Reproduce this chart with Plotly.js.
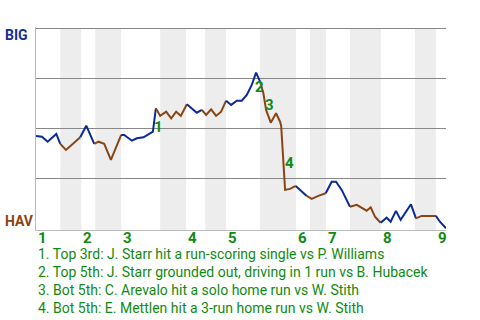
<!DOCTYPE html>
<html>
<head>
<meta charset="utf-8">
<script src="https://cdn.plot.ly/plotly-3.0.1.min.js"></script>
<style>html,body{margin:0;padding:0;background:#fff;}#chart{width:480px;height:320px;}</style>
</head>
<body>
<div id="chart"></div>
<script>
// Game progress (0..100) and BIG win probability (%)
const progress = [0,1.46,2.83,4.95,5.92, 7.31,9.16,10.79, 12.26,14.21, 15.25,16.64,18.27,20.78,
  21.52,23.39,24.61,26.22,27.85,28.51,29.24, 30.29,31.75,32.97,34.19,35.33,36.79, 39.23,40.45,
  41.50,42.71,43.93,45.15,46.37, 47.59,48.98,50.19,51.41,52.63,53.68,54.65,
  55.46,56.12,57.26,58.55,59.53,59.8,60.18,60.75,61.97,63.35, 64.81,66.03, 67.25,68.86,70.66,
  72.12,73.17,74.56,76.58, 78.22,80.65,81.63,82.68,84.06, 85.53,86.50,87.79,88.94,90.16,91.45,92.67,
  94.05,97.54, 98.51,100];
const winProb = [46.2,45.8,43.3,47.2,42.2, 39.2,42.5,45.5, 51.3,42.2, 43.3,42.2,34.2,46.7,
  46.7,43.8,45.0,45.5,47.2,48.3,60.0, 56.2,58.3,55.0,58.3,56.2,62.0, 57.8,59.2,
  56.7,59.5,56.2,58.3,63.8, 61.7,63.8,63.8,66.7,71.7,77.8,73.3,
  67.5,59.2,52.8,57.5,53.3,51.2,36.7,19.2,19.7,21.2, 18.3,16.2, 14.7,16.2,17.5,
  23.3,23.3,19.2,10.8, 11.7,8.8,10.5,5.8,2.8, 5.3,3.3,8.7,4.2,8.3,12.0,5.0,
  6.2,6.2, 3.3,0];
// half-inning of each play (even = top / BIG batting, odd = bottom / HAV batting)
const halfInning = [0,0,0,0,0, 1,1,1, 2,2, 3,3,3,3, 4,4,4,4,4,4,4, 5,5,5,5,5,5, 6,6,
  7,7,7,7,7, 8,8,8,8,8,8,8, 9,9,9,9,9,9,9,9,9,9, 10,10, 11,11,11, 12,12,12,12,
  13,13,13,13,13, 14,14,14,14,14,14,14, 15,15, 16,16];
const inningStarts = [0,11.04,20.78,36.62,46.37,63.43,70.73,84.13,97.53];
const bottomStarts = [5.92,14.45,30.29,41.26,54.65,66.84,76.58,92.41];
const inningLabels = ['1','2','3','4','5','6','7','8','9'];
const eventPlay = [20,39,41,47];
const eventLabels = ['1','2','3','4'];
const eventTexts = [
  '1. Top 3rd: J. Starr hit a run-scoring single vs P. Williams',
  '2. Top 5th: J. Starr grounded out, driving in 1 run vs B. Hubacek',
  '3. Bot 5th: C. Arevalo hit a solo home run vs W. Stith',
  '4. Bot 5th: E. Mettlen hit a 3-run home run vs W. Stith'
];
const teamTop = 'BIG', teamBottom = 'HAV';

const BLUE = '#0b2a99', BROWN = '#8b4513', GREEN = '#118a11';
const eventShift = [[3,19],[3,14],[6,12],[7,8.5]];
const Y0 = -0.85, Y1 = 100.65;

// traces per half-inning
const traces = [];
let start = 0;
for (let i = 1; i <= progress.length; i++) {
  if (i === progress.length || halfInning[i] !== halfInning[i-1]) {
    const from = Math.max(0, start - 1);
    const h = halfInning[start];
    traces.push({
      x: progress.slice(from, i), y: winProb.slice(from, i),
      type: 'scatter', mode: 'lines', hoverinfo: 'skip',
      line: {color: h % 2 === 0 ? BLUE : BROWN, width: 2},
      showlegend: false
    });
    start = i;
  }
}

const shapes = bottomStarts.map((b, k) => ({
  type: 'rect', xref: 'x', yref: 'y', x0: b, x1: inningStarts[k+1], y0: Y0, y1: 100,
  fillcolor: '#ededed', line: {width: 0}, layer: 'below'
}));

const H = 203;
const annotations = [];
inningLabels.forEach((t, k) => annotations.push({
  text: t, x: inningStarts[k], xref: 'x', xanchor: 'left',
  y: (230-238)/H, yref: 'paper', yanchor: 'middle', showarrow: false,
  font: {family: 'Roboto', size: 15, color: GREEN, weight: 'bold'}
}));
eventLabels.forEach((t, k) => annotations.push({
  text: t, x: progress[eventPlay[k]], y: winProb[eventPlay[k]], xref: 'x', yref: 'y',
  xanchor: 'center', yanchor: 'middle', xshift: eventShift[k][0], yshift: -eventShift[k][1],
  showarrow: false, font: {family: 'Roboto', size: 15, color: GREEN, weight: 'bold'}
}));
const lineY = [254, 272, 290, 308];
eventTexts.forEach((t, k) => annotations.push({
  text: t, x: 0, xref: 'paper', xanchor: 'left', y: (230-lineY[k])/H, yref: 'paper',
  yanchor: 'middle', showarrow: false, font: {family: 'Roboto', size: 14, color: GREEN}
}));
annotations.push({text: teamTop, x: (3-36)/410, xref: 'paper', xanchor: 'left',
  y: (230-35)/H, yref: 'paper', yanchor: 'middle', showarrow: false,
  font: {family: 'Roboto', size: 14, color: '#13308f', weight: 'bold'}});
annotations.push({text: teamBottom, x: (3-36)/410, xref: 'paper', xanchor: 'left',
  y: (230-220.5)/H, yref: 'paper', yanchor: 'middle', showarrow: false,
  font: {family: 'Roboto', size: 14, color: BROWN, weight: 'bold'}});

const layout = {
  width: 480, height: 320,
  margin: {l: 36, r: 34, t: 27, b: 90, pad: 0},
  paper_bgcolor: '#fff', plot_bgcolor: '#fff',
  xaxis: {range: [0, 100], showgrid: false, zeroline: false, showticklabels: false,
    ticks: '', showline: true, linecolor: '#bbbbbb', linewidth: 1, fixedrange: true},
  yaxis: {range: [Y0, Y1], tickvals: [25, 50, 75, 100], showticklabels: false, ticks: '',
    showgrid: true, gridcolor: '#888888', gridwidth: 1, zeroline: false,
    showline: true, linecolor: '#bbbbbb', linewidth: 1, fixedrange: true},
  shapes: shapes, annotations: annotations, showlegend: false
};
Plotly.newPlot('chart', traces, layout, {staticPlot: true, displayModeBar: false});
</script>
</body>
</html>
